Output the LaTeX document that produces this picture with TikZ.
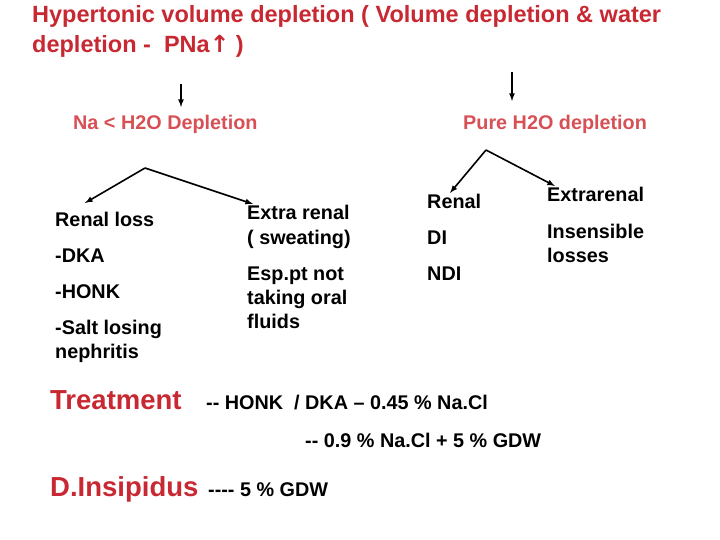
\documentclass[tikz,border=0pt]{standalone}
\usepackage{fontspec}
\setmainfont{Liberation Sans}
\newfontfamily\dv{DejaVu Sans}
\definecolor{ttl}{RGB}{200,40,50}
\definecolor{sub}{RGB}{215,80,85}
\begin{document}
\begin{tikzpicture}[x=1pt,y=-1pt,
  txt/.style={anchor=base west,inner sep=0pt,font=\fontsize{19.8}{22}\selectfont\bfseries},
  rtxt/.style={anchor=base west,inner sep=0pt,text=sub,font=\fontsize{19.8}{22}\selectfont\bfseries},
  big/.style={anchor=base west,inner sep=0pt,text=ttl,font=\fontsize{27.5}{30}\selectfont\bfseries},
  arr/.style={-latex,line width=1.6pt}]
\useasboundingbox (0,0) rectangle (720,540);
\node[anchor=north west,inner sep=0pt,text=ttl,font=\fontsize{23.5}{30}\selectfont\bfseries,align=left] (title) at (32,5)
 {Hypertonic volume depletion ( Volume depletion \& water\\depletion -\ \ PNa{\dv↑} )};
\coordinate (a1s) at (181,84); \coordinate (a1e) at (181,107);
\coordinate (a2s) at (512,72); \coordinate (a2e) at (512,101);
\draw[arr] (a1s) -- (a1e);
\draw[arr] (a2s) -- (a2e);
\node[rtxt] (na) at (73,130) {Na < H2O Depletion};
\node[rtxt] (pure) at (463,130) {Pure H2O depletion};
\coordinate (l0) at (145,168); \coordinate (l1) at (85,203); \coordinate (l2) at (253,204);
\coordinate (r0) at (486,150); \coordinate (r1) at (450,193); \coordinate (r2) at (555,186);
\draw[arr] (l0) -- (l1); \draw[arr] (l0) -- (l2);
\draw[arr] (r0) -- (r1); \draw[arr] (r0) -- (r2);
\node[txt] (rl) at (55,226) {Renal loss};
\node[txt] (dka) at (55,262) {-DKA};
\node[txt] (honk) at (55,298) {-HONK};
\node[txt] (salt) at (55,334) {-Salt losing};
\node[txt] (neph) at (55,358) {nephritis};
\node[txt] (er1) at (247,219) {Extra renal};
\node[txt] (er2) at (247,244) {( sweating)};
\node[txt] (e1) at (247,280) {Esp.pt not};
\node[txt] (e2) at (247,304) {taking oral};
\node[txt] (e3) at (247,328) {fluids};
\node[txt] (ren) at (427,208) {Renal};
\node[txt] (di) at (427,244) {DI};
\node[txt] (ndi) at (427,280) {NDI};
\node[txt] (ex) at (547,202) {Extrarenal};
\node[txt] (ins) at (547,238) {Insensible};
\node[txt] (los) at (547,262) {losses};
\node[big] (tr) at (50,409) {Treatment};
\node[txt] (t1) at (206,409) {-{}- HONK\ \ / DKA – 0.45 \% Na.Cl};
\node[txt] (t2) at (305,447) {-{}- 0.9 \% Na.Cl + 5 \% GDW};
\node[big] (dins) at (50,496) {D.Insipidus};
\node[txt] (t3) at (208,496) {-{}-{}-{}- 5 \% GDW};
\end{tikzpicture}
\end{document}
